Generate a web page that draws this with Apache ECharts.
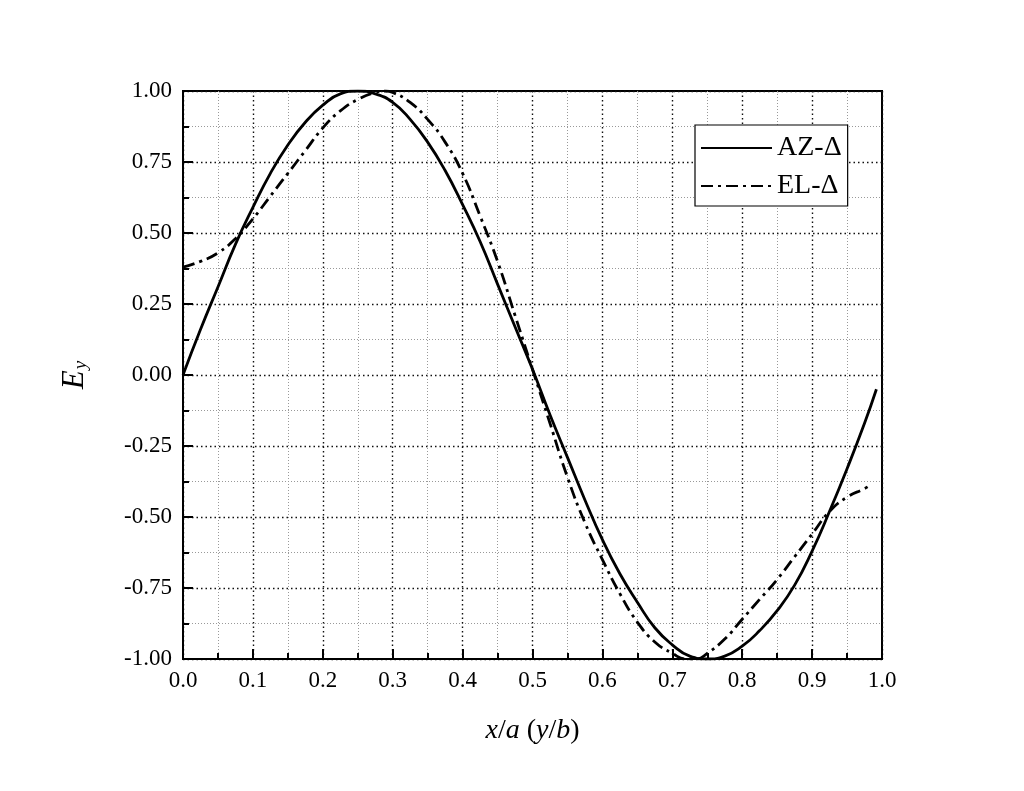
<!DOCTYPE html>
<html>
<head>
<meta charset="utf-8">
<script src="https://cdn.jsdelivr.net/npm/echarts@6/dist/echarts.min.js"></script>
<style>html,body{margin:0;padding:0;background:#fff;}#c{width:1024px;height:791px;}</style>
</head>
<body>
<div id="c"></div>
<script>
// Data
const azX = [0,0.025,0.05,0.075,0.1,0.125,0.15,0.175,0.2,0.225,0.25,0.275,0.3,0.325,0.35,0.375,0.4,0.425,0.45,0.475,0.5,0.525,0.55,0.575,0.6,0.625,0.65,0.675,0.7,0.725,0.75,0.775,0.8,0.825,0.85,0.875,0.9,0.925,0.95,0.975,0.992];
const azY = [0,0.16,0.31,0.46,0.59,0.71,0.81,0.89,0.95,0.99,1.00,0.99,0.96,0.90,0.82,0.72,0.60,0.47,0.32,0.17,0.02,-0.14,-0.29,-0.44,-0.58,-0.70,-0.80,-0.89,-0.95,-0.99,-1.00,-0.99,-0.955,-0.90,-0.83,-0.74,-0.62,-0.48,-0.33,-0.17,-0.05];
const elX = [0,0.025,0.05,0.075,0.1,0.125,0.15,0.175,0.2,0.225,0.25,0.275,0.29,0.3,0.325,0.35,0.375,0.4,0.425,0.45,0.475,0.5,0.525,0.55,0.575,0.6,0.625,0.65,0.675,0.7,0.72,0.735,0.75,0.775,0.8,0.825,0.85,0.875,0.9,0.925,0.95,0.975,0.985];
const elY = [0.38,0.40,0.43,0.48,0.55,0.63,0.71,0.79,0.87,0.93,0.97,0.995,1.0,0.995,0.96,0.90,0.82,0.71,0.56,0.40,0.21,0.02,-0.17,-0.36,-0.52,-0.65,-0.77,-0.87,-0.94,-0.98,-1.0,-1.0,-0.98,-0.93,-0.86,-0.79,-0.72,-0.64,-0.56,-0.48,-0.43,-0.40,-0.385];
const seriesNames = ['AZ-\u0394','EL-\u0394'];

const FONT = '"Liberation Serif", "Times New Roman", serif';
const chart = echarts.init(document.getElementById('c'), null, {renderer:'canvas'});
const zip = (xs, ys) => xs.map((x,i)=>[x, ys[i]]);

chart.setOption({
  backgroundColor:'#fff',
  animation:false,
  textStyle:{fontFamily:FONT, color:'#000'},
  grid:{left:183, right:142, top:91, bottom:132, show:true, borderColor:'#000', borderWidth:2, backgroundColor:'transparent'},
  legend:{
    left:695, top:125, orient:'vertical',
    backgroundColor:'#fff', borderColor:'#000', borderWidth:1.2,
    padding:[9,6,6,5], itemGap:10, itemWidth:71, itemHeight:22,
    textStyle:{fontFamily:FONT, fontSize:28, color:'#000'},
    itemStyle:{opacity:0},
    data:seriesNames
  },
  xAxis:{
    type:'value', min:0, max:1, interval:0.1,
    name:'{i|x}{n|/}{i|a}{n| (}{i|y}{n|/}{i|b}{n|)}',
    nameLocation:'middle', nameGap:58,
    nameTextStyle:{fontFamily:FONT, fontSize:28, color:'#000',
      rich:{i:{fontFamily:FONT, fontSize:28, fontStyle:'italic', color:'#000'}, n:{fontFamily:FONT, fontSize:28, color:'#000'}}},
    axisLine:{show:true, onZero:false, lineStyle:{color:'#000', width:2}},
    axisTick:{show:true, inside:true, length:10, lineStyle:{color:'#000', width:2}},
    minorTick:{show:true, splitNumber:2, length:6, lineStyle:{color:'#000', width:2}},
    axisLabel:{fontFamily:FONT, fontSize:23, color:'#000', margin:10, formatter:v=>v.toFixed(1)},
    splitLine:{show:true, lineStyle:{color:'#111', width:1.4, type:[1.5,3]}},
    minorSplitLine:{show:true, lineStyle:{color:'#999', width:1, type:[1,2]}}
  },
  yAxis:{
    type:'value', min:-1, max:1, interval:0.25,
    name:'{e|E}{s|y}', nameLocation:'middle', nameGap:93, nameRotate:90,
    nameTextStyle:{fontFamily:FONT, color:'#000',
      rich:{e:{fontFamily:FONT, fontSize:31, fontStyle:'italic', color:'#000', verticalAlign:'bottom'},
            s:{fontFamily:FONT, fontSize:19, fontStyle:'italic', color:'#000', padding:[14,0,0,1], verticalAlign:'bottom'}}},
    axisLine:{show:true, onZero:false, lineStyle:{color:'#000', width:2}},
    axisTick:{show:true, inside:true, length:10, lineStyle:{color:'#000', width:2}},
    minorTick:{show:true, splitNumber:2, length:6, lineStyle:{color:'#000', width:2}},
    axisLabel:{fontFamily:FONT, fontSize:23, color:'#000', margin:11, formatter:v=>v.toFixed(2)},
    splitLine:{show:true, lineStyle:{color:'#111', width:1.4, type:[1.5,3]}},
    minorSplitLine:{show:true, lineStyle:{color:'#999', width:1, type:[1,2]}}
  },
  series:[
    {name:seriesNames[0], type:'line', data:zip(azX, azY), smooth:0.5, symbol:'none', showSymbol:false,
     lineStyle:{color:'#000', width:2.8, type:'solid'}, itemStyle:{color:'#000'}, z:5},
    {name:seriesNames[1], type:'line', data:zip(elX, elY), smooth:0.5, symbol:'none', showSymbol:false,
     lineStyle:{color:'#000', width:2.8, type:[12,5,3,5]}, itemStyle:{color:'#000'}, z:5}
  ]
});
</script>
</body>
</html>
